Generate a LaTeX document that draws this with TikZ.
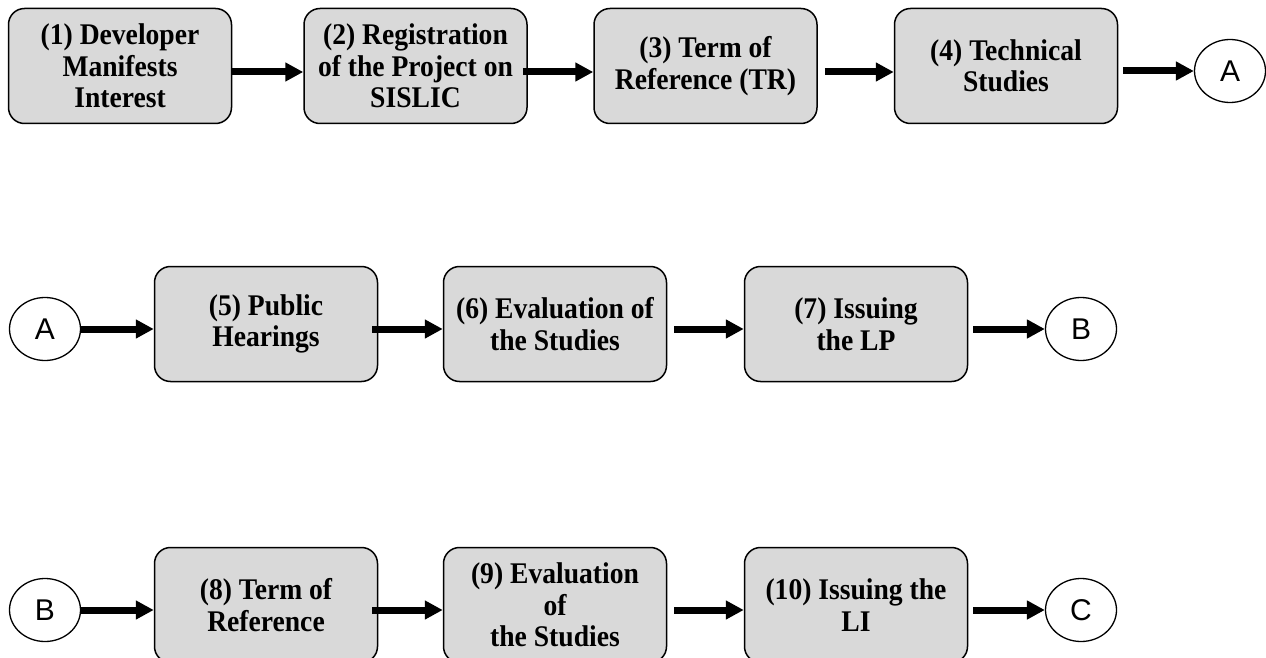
\documentclass[tikz,border=0pt]{standalone}
\usepackage{fontspec}
\setmainfont{Liberation Serif}[FakeStretch=0.92]
\newfontfamily\arialfont{Liberation Sans}
\usetikzlibrary{arrows.meta,shapes.geometric}
\begin{document}
\begin{tikzpicture}[x=1pt,y=1pt,
  stepbox/.style={draw=black,line width=1.5pt,fill=boxgray,rounded corners=16pt,
    minimum width=223pt,minimum height=115pt,inner sep=0pt,align=center,
    font=\fontsize{30}{31.5}\selectfont\bfseries},
  conn/.style={ellipse,draw=black,line width=1.3pt,fill=white,
    minimum width=71pt,minimum height=63pt,inner sep=0pt,
    font=\fontsize{30}{30}\arialfont},
  flow/.style={line width=7pt,-{Triangle[length=18pt,width=18pt]}}]
\definecolor{boxgray}{HTML}{D9D9D9}
\useasboundingbox (0,0) rectangle (1266,-658);

% first row
\node[stepbox] (b1) at (120,-66) {(1) Developer\\Manifests\\Interest};
\node[stepbox] (b2) at (415.5,-66) {(2) Registration\\of the Project on\\SISLIC};
\node[stepbox] (b3) at (705.5,-66) {(3) Term of\\Reference (TR)};
\node[stepbox] (b4) at (1006,-66) {(4) Technical\\Studies};
\node[conn] (a1) at (1230,-71) {A};

% second row
\node[conn] (a2) at (45,-329) {A};
\node[stepbox] (b5) at (266,-324) {(5) Public\\Hearings};
\node[stepbox] (b6) at (555,-324) {(6) Evaluation of\\the Studies};
\node[stepbox] (b7) at (856,-324) {(7) Issuing\\the LP};
\node[conn] (p2) at (1081,-329) {B};

% third row
\node[conn] (p3) at (45,-610) {B};
\node[stepbox] (b8) at (266,-605) {(8) Term of\\Reference};
\node[stepbox] (b9) at (555,-605) {(9) Evaluation\\of\\the Studies};
\node[stepbox] (b10) at (856,-605) {(10) Issuing the\\LI};
\node[conn] (c3) at (1081,-610) {C};

% connectors
\draw[flow] ([yshift=-6pt]b1.east) -- ([yshift=-6pt]b2.west);
\draw[flow,shorten <=-5pt] ([yshift=-6pt]b2.east) -- ([yshift=-6pt]b3.west);
\draw[flow,shorten <=7pt] ([yshift=-6pt]b3.east) -- ([yshift=-6pt]b4.west);
\draw[flow,shorten <=5pt] ([yshift=-5pt]b4.east) -- (a1.west);

\draw[flow] (a2.east) -- ([yshift=-5pt]b5.west);
\draw[flow,shorten <=-6pt] ([yshift=-5pt]b5.east) -- ([yshift=-5pt]b6.west);
\draw[flow,shorten <=7pt] ([yshift=-5pt]b6.east) -- ([yshift=-5pt]b7.west);
\draw[flow,shorten <=5pt] ([yshift=-5pt]b7.east) -- (p2.west);

\draw[flow] (p3.east) -- ([yshift=-5pt]b8.west);
\draw[flow,shorten <=-6pt] ([yshift=-5pt]b8.east) -- ([yshift=-5pt]b9.west);
\draw[flow,shorten <=7pt] ([yshift=-5pt]b9.east) -- ([yshift=-5pt]b10.west);
\draw[flow,shorten <=5pt] ([yshift=-5pt]b10.east) -- (c3.west);
\end{tikzpicture}
\end{document}
